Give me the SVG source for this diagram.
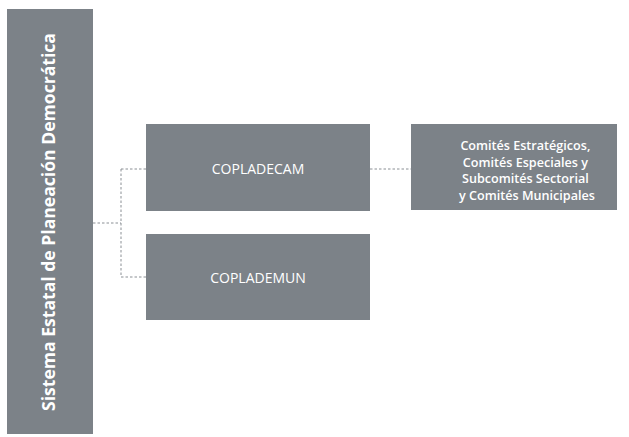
<svg xmlns="http://www.w3.org/2000/svg" width="629" height="437" viewBox="0 0 629 437">
<style>
.box{fill:#7c8288;}
.t{fill:#ffffff;font-family:"Open Sans",Lato,sans-serif;text-anchor:middle;}
.c{fill:none;stroke:#8a8f94;stroke-width:1;stroke-dasharray:2.5 2;}
</style>
<rect width="629" height="437" fill="#ffffff"/>
<g id="sistema">
<rect class="box" x="7" y="9" width="86" height="425"/>
<text class="t" transform="translate(55,222) rotate(-90)" font-size="17.5" font-weight="bold" textLength="378" lengthAdjust="spacingAndGlyphs">Sistema Estatal de Planeación Democrática</text>
</g>
<g id="copladecam">
<rect class="box" x="146" y="124" width="224" height="87"/>
<text class="t" x="258" y="174" font-size="14">COPLADECAM</text>
</g>
<g id="coplademun">
<rect class="box" x="146" y="234" width="224" height="86"/>
<text class="t" x="258" y="283" font-size="14">COPLADEMUN</text>
</g>
<g id="comites">
<rect class="box" x="411" y="124" width="206" height="86"/>
<text class="t" font-size="12.6" font-weight="600">
<tspan x="527" y="150">Comités Estratégicos,</tspan>
<tspan x="527" y="166.5">Comités Especiales y</tspan>
<tspan x="527" y="183">Subcomités Sectorial</tspan>
<tspan x="527" y="199.5">y Comités Municipales</tspan>
</text>
</g>
<g id="connectors">
<path class="c" d="M93,223 H121 M121,169 V277 M121,169 H146 M121,277 H146 M370,169 H411"/>
</g>
</svg>
